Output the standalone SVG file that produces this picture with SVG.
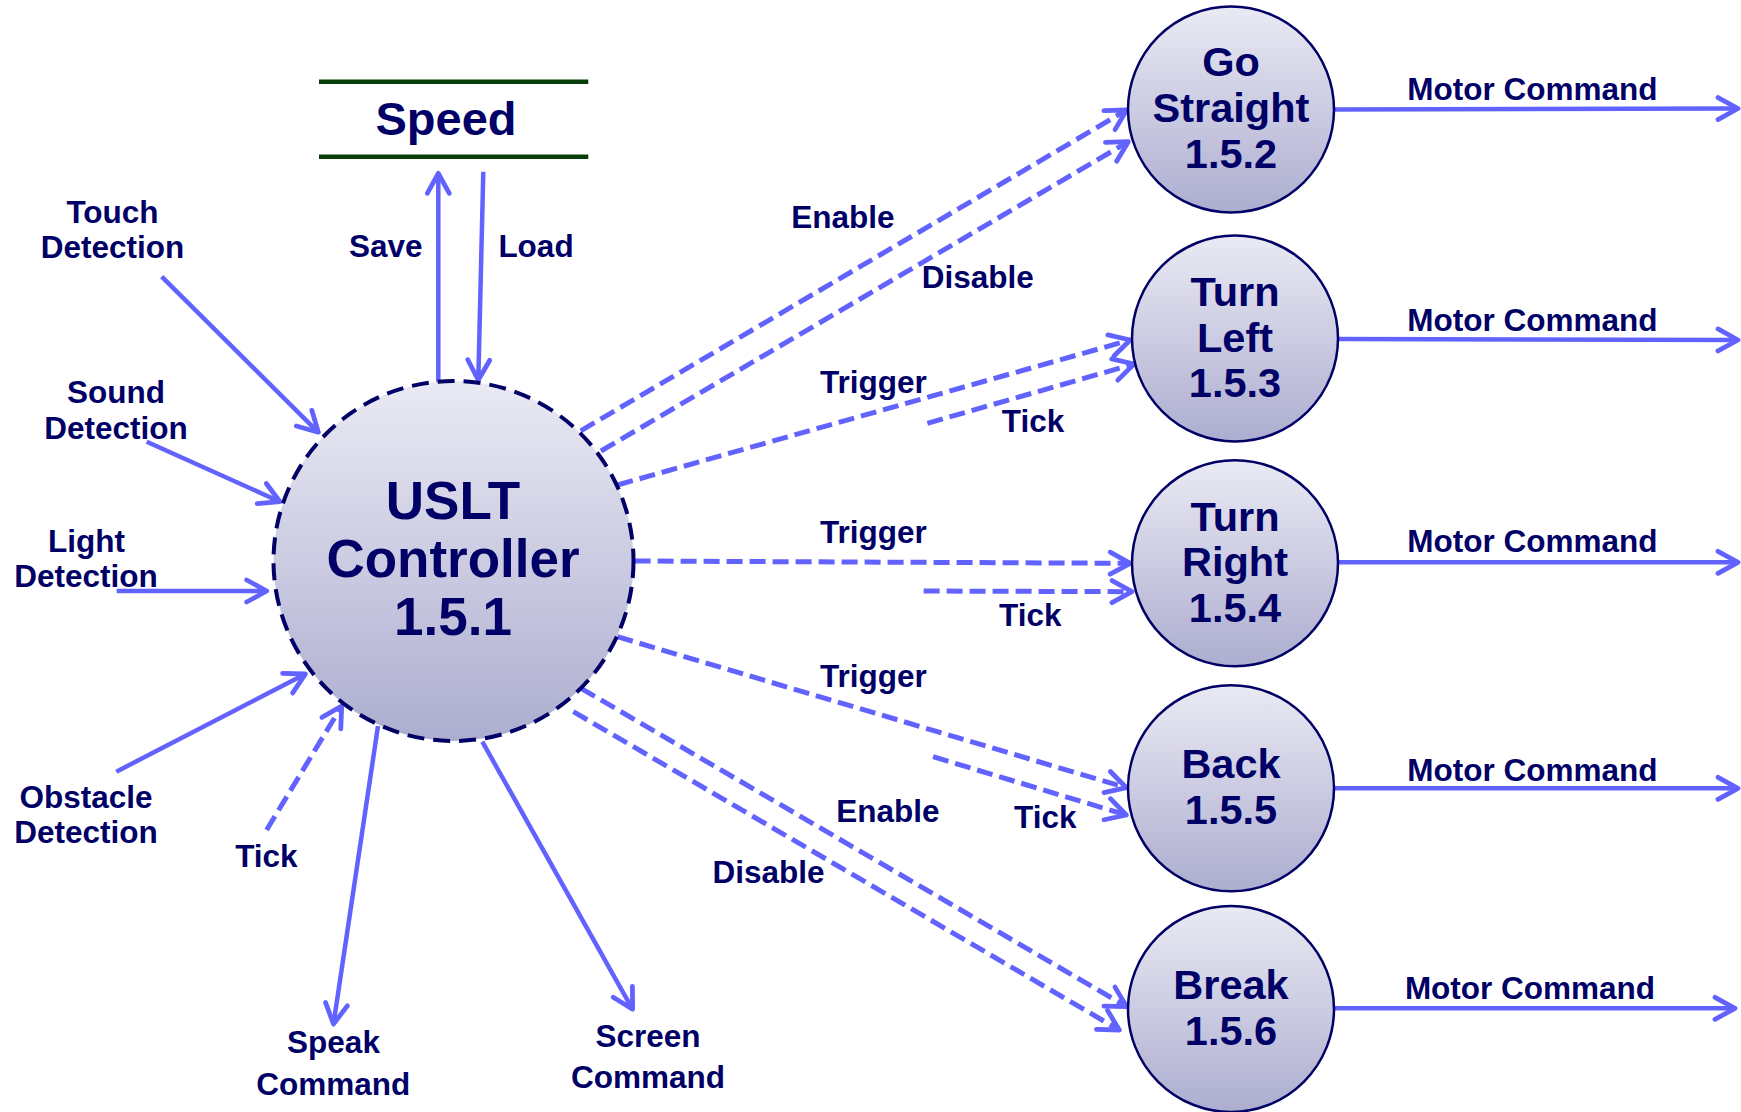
<svg xmlns="http://www.w3.org/2000/svg" width="1741" height="1112" viewBox="0 0 1741 1112">
  <style>
    text { font-family: "Liberation Sans", Arial, sans-serif; font-weight: bold; fill: #000066; text-anchor: middle; }
    .lbl { font-size: 31.5px; }
    .node-lbl { font-size: 41.5px; }
    .main-lbl { font-size: 53px; }
    .flow { fill: none; stroke: #6262ff; stroke-width: 4.5; marker-end: url(#chev); }
    .ctrl { stroke-width: 5; stroke-dasharray: 16 7; }
    .proc { fill: url(#bubble); stroke: #000066; stroke-width: 2.5; }
    .store { stroke: #073b07; stroke-width: 4.5; }
  </style>
  <defs>
    <linearGradient id="bubble" x1="0" y1="0" x2="0" y2="1">
      <stop offset="0" stop-color="#eaeaf4"/>
      <stop offset="1" stop-color="#adadd0"/>
    </linearGradient>
    <marker id="chev" markerUnits="userSpaceOnUse" orient="auto" refX="0" refY="0" markerWidth="40" markerHeight="40" viewBox="-24 -20 30 40" overflow="visible">
      <path d="M-20,-11 L0,0 L-20,11" fill="none" stroke="#6262ff" stroke-width="4.8" stroke-linecap="round" stroke-linejoin="round" stroke-dasharray="none"/>
    </marker>
  </defs>

  <rect width="1741" height="1112" fill="#ffffff"/>

  <!-- data flows -->
  <g id="connectors">
    <!-- sensor inputs -->
    <line class="flow" x1="161.7" y1="276.7" x2="318.3" y2="432.3"/>
    <line class="flow" x1="146.7" y1="441.7" x2="280" y2="501.7"/>
    <line class="flow" x1="116.7" y1="591" x2="266.7" y2="591"/>
    <line class="flow" x1="116.3" y1="771.7" x2="305.4" y2="674"/>
    <line class="flow ctrl" x1="266.6" y1="830" x2="341.7" y2="706"/>
    <!-- outputs -->
    <line class="flow" x1="378" y1="726" x2="333.5" y2="1024"/>
    <line class="flow" x1="482.3" y1="741.7" x2="632.6" y2="1009.3"/>
    <!-- data store -->
    <line class="flow" x1="438.3" y1="381.7" x2="438.3" y2="173.3"/>
    <line class="flow" x1="483.3" y1="171.7" x2="478.3" y2="380"/>
    <!-- control flows to behaviours -->
    <line class="flow ctrl" x1="580.7" y1="430.8" x2="1126.7" y2="110"/>
    <line class="flow ctrl" x1="601" y1="451" x2="1128.3" y2="141.7"/>
    <line class="flow ctrl" x1="617.4" y1="485" x2="1130.2" y2="340"/>
    <line class="flow ctrl" x1="927.4" y1="423.3" x2="1134" y2="364"/>
    <line class="flow ctrl" x1="634.6" y1="561" x2="1130.2" y2="563.3"/>
    <line class="flow ctrl" x1="923.6" y1="591" x2="1132" y2="591.7"/>
    <line class="flow ctrl" x1="617.4" y1="636.7" x2="1126.4" y2="787.7"/>
    <line class="flow ctrl" x1="933.1" y1="756.7" x2="1126.4" y2="815"/>
    <line class="flow ctrl" x1="581" y1="688.3" x2="1126.7" y2="1006.7"/>
    <line class="flow ctrl" x1="573.4" y1="711.7" x2="1119.3" y2="1030"/>
    <!-- motor commands -->
    <line class="flow" x1="1334" y1="109.5" x2="1738" y2="108.5"/>
    <line class="flow" x1="1338" y1="339" x2="1738" y2="340"/>
    <line class="flow" x1="1338" y1="562.3" x2="1738" y2="562.3"/>
    <line class="flow" x1="1334" y1="788.3" x2="1738" y2="788.3"/>
    <line class="flow" x1="1334" y1="1008.3" x2="1735" y2="1008.3"/>

    <!-- flow labels -->
    <text class="lbl" x="112.5" y="222.7">Touch</text>
    <text class="lbl" x="112.5" y="258.3">Detection</text>
    <text class="lbl" x="116" y="403.3">Sound</text>
    <text class="lbl" x="116" y="439">Detection</text>
    <text class="lbl" x="86.5" y="552.3">Light</text>
    <text class="lbl" x="86" y="587">Detection</text>
    <text class="lbl" x="86" y="808.3">Obstacle</text>
    <text class="lbl" x="86" y="842.7">Detection</text>
    <text class="lbl" x="266.4" y="866.7">Tick</text>
    <text class="lbl" x="333.5" y="1053.3">Speak</text>
    <text class="lbl" x="333.3" y="1095">Command</text>
    <text class="lbl" x="648" y="1046.7">Screen</text>
    <text class="lbl" x="648" y="1088.3">Command</text>
    <text class="lbl" x="385.8" y="257.3">Save</text>
    <text class="lbl" x="536" y="257.3">Load</text>
    <text class="lbl" x="842.8" y="228.3">Enable</text>
    <text class="lbl" x="977.7" y="288.3">Disable</text>
    <text class="lbl" x="873.5" y="393.3">Trigger</text>
    <text class="lbl" x="1033" y="431.7">Tick</text>
    <text class="lbl" x="873.5" y="543.3">Trigger</text>
    <text class="lbl" x="1030.3" y="626">Tick</text>
    <text class="lbl" x="873.5" y="687.3">Trigger</text>
    <text class="lbl" x="1045.3" y="828.3">Tick</text>
    <text class="lbl" x="887.8" y="821.7">Enable</text>
    <text class="lbl" x="768.5" y="882.7">Disable</text>
    <text class="lbl" x="1532.3" y="100">Motor Command</text>
    <text class="lbl" x="1532.3" y="330.7">Motor Command</text>
    <text class="lbl" x="1532.3" y="552.3">Motor Command</text>
    <text class="lbl" x="1532.3" y="780.7">Motor Command</text>
    <text class="lbl" x="1530" y="999.3">Motor Command</text>
  </g>

  <!-- data store -->
  <g id="speed-store">
    <line class="store" x1="319" y1="81.7" x2="588.3" y2="81.7"/>
    <line class="store" x1="319" y1="156.7" x2="588.3" y2="156.7"/>
    <text x="446" y="135" style="font-size:47px">Speed</text>
  </g>

  <!-- controller -->
  <g id="controller">
    <circle cx="453.5" cy="561" r="180" fill="url(#bubble)" stroke="#000066" stroke-width="4" stroke-dasharray="17 9"/>
    <text class="main-lbl" x="453" y="519">USLT</text>
    <text class="main-lbl" x="453" y="577">Controller</text>
    <text class="main-lbl" x="453" y="635">1.5.1</text>
  </g>

  <!-- behaviour processes -->
  <g id="go-straight">
    <circle class="proc" cx="1231" cy="109.5" r="103"/>
    <text class="node-lbl" x="1231" y="76">Go</text>
    <text class="node-lbl" x="1231" y="121.7">Straight</text>
    <text class="node-lbl" x="1231" y="168.3">1.5.2</text>
  </g>
  <g id="turn-left">
    <circle class="proc" cx="1235" cy="338.5" r="103"/>
    <text class="node-lbl" x="1235" y="306">Turn</text>
    <text class="node-lbl" x="1235" y="351.7">Left</text>
    <text class="node-lbl" x="1235" y="396.7">1.5.3</text>
  </g>
  <g id="turn-right">
    <circle class="proc" cx="1235" cy="563.3" r="103"/>
    <text class="node-lbl" x="1235" y="530.7">Turn</text>
    <text class="node-lbl" x="1235" y="576">Right</text>
    <text class="node-lbl" x="1235" y="622.3">1.5.4</text>
  </g>
  <g id="back">
    <circle class="proc" cx="1231" cy="788.3" r="103"/>
    <text class="node-lbl" x="1231" y="778.3">Back</text>
    <text class="node-lbl" x="1231" y="824">1.5.5</text>
  </g>
  <g id="break">
    <circle class="proc" cx="1231" cy="1009" r="103"/>
    <text class="node-lbl" x="1231" y="999.3">Break</text>
    <text class="node-lbl" x="1231" y="1045">1.5.6</text>
  </g>
</svg>
